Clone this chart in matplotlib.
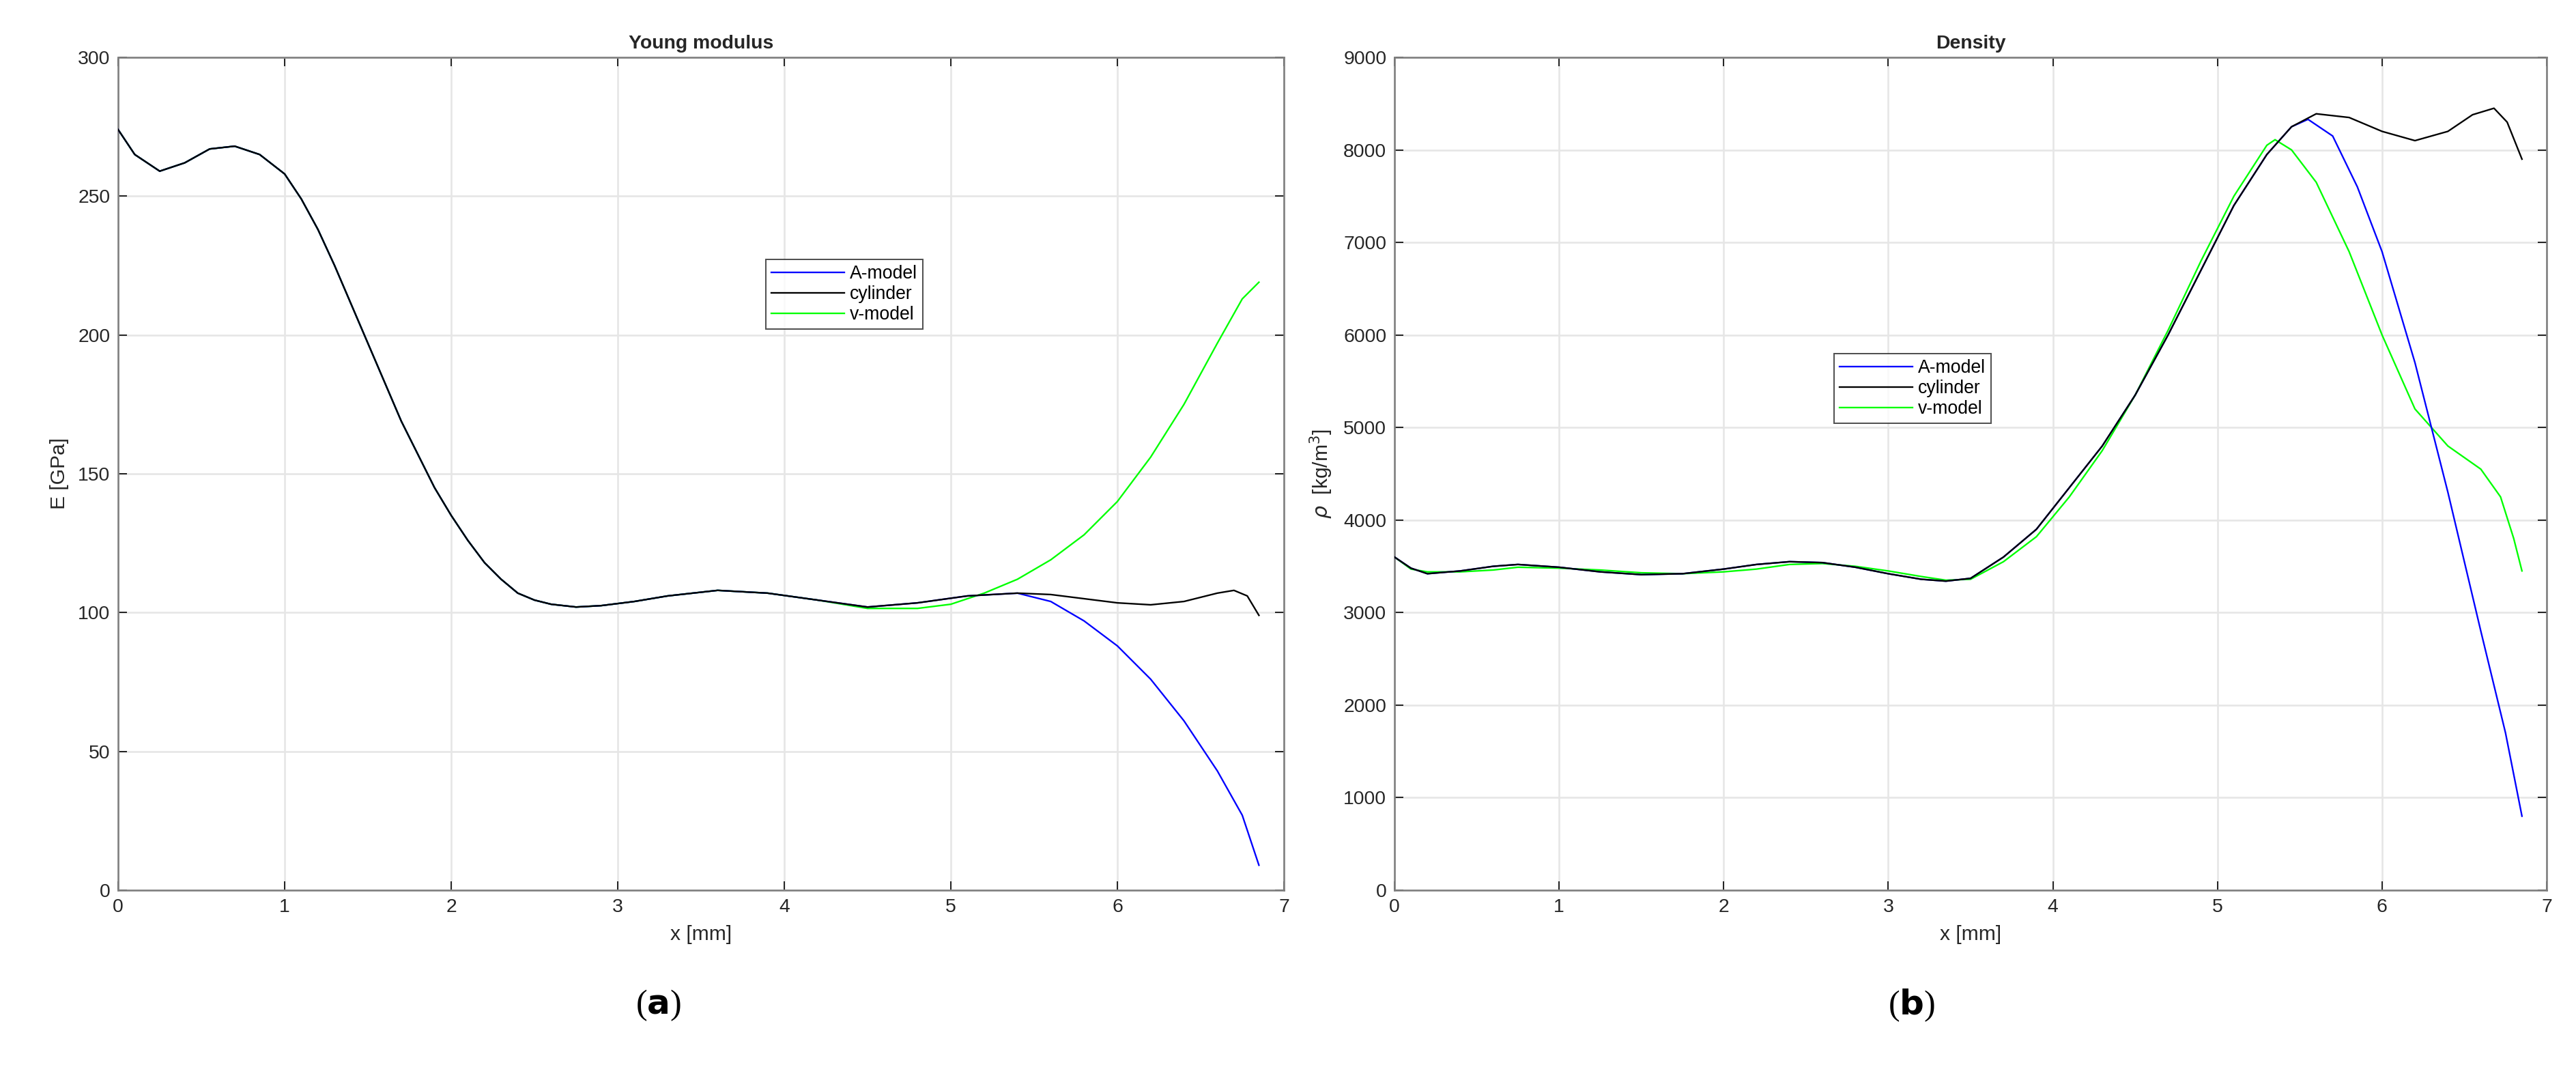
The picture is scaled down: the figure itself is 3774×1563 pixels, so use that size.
import matplotlib
matplotlib.use("Agg")
import matplotlib.pyplot as plt

plt.rcParams['font.family'] = ['Liberation Sans', 'DejaVu Sans']

# Young modulus data
xE_common = [0, 0.1, 0.25, 0.4, 0.55, 0.7, 0.85, 1.0, 1.1, 1.2, 1.3, 1.4, 1.5, 1.6, 1.7, 1.8, 1.9, 2.0, 2.1, 2.2, 2.3, 2.4, 2.5, 2.6, 2.75, 2.9, 3.1, 3.3, 3.6, 3.9, 4.2, 4.5, 4.8, 5.1, 5.4]
E_common = [274, 265, 259, 262, 267, 268, 265, 258, 249, 238, 225, 211, 197, 183, 169, 157, 145, 135, 126, 118, 112, 107, 104.5, 103, 102, 102.5, 104, 106, 108, 107, 104.5, 102, 103.5, 106, 107]
xE_A = [5.4, 5.6, 5.8, 6.0, 6.2, 6.4, 6.6, 6.75, 6.85]
E_A = [107, 104, 97, 88, 76, 61, 43, 27, 9]
xE_cyl = [5.4, 5.6, 5.8, 6.0, 6.2, 6.4, 6.6, 6.7, 6.78, 6.85]
E_cyl = [107, 106.5, 105, 103.5, 102.8, 104, 107, 108, 106, 99]
xE_v_start = 4.2
xE_v = [4.5, 4.8, 5.0, 5.2, 5.4, 5.6, 5.8, 6.0, 6.2, 6.4, 6.6, 6.75, 6.85]
E_v = [101.5, 101.5, 103, 107, 112, 119, 128, 140, 156, 175, 197, 213, 219]

# Density data
xR_common = [0, 0.1, 0.2, 0.4, 0.6, 0.75, 1.0, 1.25, 1.5, 1.75, 2.0, 2.2, 2.4, 2.6, 2.8, 3.0, 3.2, 3.35, 3.5, 3.7, 3.9, 4.1, 4.3, 4.5, 4.7, 4.9, 5.1, 5.3]
R_common = [3600, 3480, 3420, 3450, 3500, 3520, 3490, 3440, 3410, 3420, 3470, 3520, 3550, 3540, 3490, 3420, 3360, 3340, 3370, 3600, 3900, 4350, 4800, 5350, 6000, 6700, 7400, 7950]
xR_A = [5.3, 5.45, 5.55, 5.7, 5.85, 6.0, 6.2, 6.4, 6.6, 6.75, 6.85]
R_A = [7950, 8250, 8330, 8150, 7600, 6900, 5700, 4300, 2800, 1700, 800]
xR_cyl = [5.3, 5.45, 5.6, 5.8, 6.0, 6.2, 6.4, 6.55, 6.68, 6.76, 6.85]
R_cyl = [7950, 8250, 8390, 8350, 8200, 8100, 8200, 8380, 8450, 8300, 7900]
xR_v = [5.3, 5.35, 5.45, 5.6, 5.8, 6.0, 6.2, 6.4, 6.6, 6.72, 6.8, 6.85]
R_v = [8100, 8110, 8000, 7650, 6900, 6000, 5200, 4800, 4550, 4250, 3800, 3450]
R_v_early = [3600, 3470, 3440, 3440, 3460, 3490, 3480, 3460, 3430, 3420, 3440, 3470, 3520, 3530, 3500, 3450, 3390, 3350, 3360, 3550, 3820, 4250, 4750, 5350, 6050, 6800, 7500, 8050]

blue, black, green = '#0000ff', '#000000', '#00ff00'

fig = plt.figure(figsize=(3774/240, 1563/240), dpi=240)
axL = fig.add_axes([173/3774, 1-1304/1563, (1881-173)/3774, (1304-84)/1563])
axR = fig.add_axes([2043/3774, 1-1304/1563, (3731-2043)/3774, (1304-84)/1563])

def style(ax):
    ax.grid(True, color='#e6e6e6', linewidth=0.8)
    ax.set_axisbelow(True)
    for s in ax.spines.values():
        s.set_color('#808080'); s.set_linewidth(0.8)
    ax.tick_params(direction='in', length=4, width=0.6, labelsize=8.5, colors='#262626', top=True, right=True, labeltop=False, labelright=False)
    ax.set_xlim(0, 7)
    ax.set_xticks(range(8))

lw = 0.7
EvxC = [x for x in xE_common if x <= xE_v_start]
EvyC = E_common[:len(EvxC)]
axL.plot(xE_common + xE_A[1:], E_common + E_A[1:], color=blue, lw=lw, label='A-model', zorder=3)
axL.plot(xE_common + xE_cyl[1:], E_common + E_cyl[1:], color=black, lw=lw, label='cylinder', zorder=4)
axL.plot(EvxC + xE_v, EvyC + E_v, color=green, lw=lw, label='v-model', zorder=2)
style(axL)
axL.set_ylim(0, 300)
axL.set_yticks(range(0, 301, 50))
axL.set_title('Young modulus', fontsize=8.5, fontweight='bold', color='#262626', pad=4)
axL.set_xlabel('x [mm]', fontsize=9, color='#262626')
axL.set_ylabel('E [GPa]', fontsize=9, color='#262626')
leg = axL.legend(loc='upper left', bbox_to_anchor=((1109-173)/(1881-173), 1-(367-84)/(1304-84)), fontsize=8, frameon=True, fancybox=False, borderpad=0.3, handlelength=4, labelspacing=0.15, handletextpad=0.3)
leg.get_frame().set_edgecolor('#262626'); leg.get_frame().set_linewidth(0.6)

axR.plot(xR_common + xR_A[1:], R_common + R_A[1:], color=blue, lw=lw, label='A-model', zorder=3)
axR.plot(xR_common + xR_cyl[1:], R_common + R_cyl[1:], color=black, lw=lw, label='cylinder', zorder=4)
axR.plot(xR_common + xR_v[1:], R_v_early + R_v[1:], color=green, lw=lw, label='v-model', zorder=2)
style(axR)
axR.set_ylim(0, 9000)
axR.set_yticks(range(0, 9001, 1000))
axR.set_title('Density', fontsize=8.5, fontweight='bold', color='#262626', pad=4)
axR.set_xlabel('x [mm]', fontsize=9, color='#262626')
axR.set_ylabel(r'$\rho$  [kg/m$^3$]', fontsize=9, color='#262626')
leg = axR.legend(loc='upper left', bbox_to_anchor=((2674-2043)/(3731-2043), 1-(505-84)/(1304-84)), fontsize=8, frameon=True, fancybox=False, borderpad=0.3, handlelength=4, labelspacing=0.15, handletextpad=0.3)
leg.get_frame().set_edgecolor('#262626'); leg.get_frame().set_linewidth(0.6)

for xpos, lab in [(964, 'a'), (2800, 'b')]:
    fig.text(xpos/3774, 1-1473/1563, '(' + r'$\mathbf{' + lab + '}$' + ')', fontsize=15, family='Liberation Serif', ha='center', va='center')
plt.rcParams['mathtext.fontset'] = 'custom'

fig.savefig('out.png', dpi=240)
